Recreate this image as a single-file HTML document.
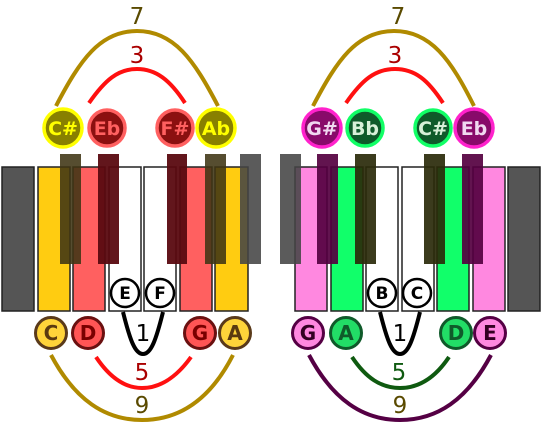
<!DOCTYPE html>
<html><head><meta charset="utf-8"><style>html,body{margin:0;padding:0;background:#fff}svg{display:block}</style></head><body>
<svg width="547" height="428" viewBox="0 0 547 428" xmlns="http://www.w3.org/2000/svg" font-family="DejaVu Sans, Liberation Sans, sans-serif">
<g stroke="#222" stroke-width="1.5">
<rect x="2" y="167" width="32" height="144" fill="#555"/>
<rect x="38" y="167" width="32" height="144" fill="#ffcc11"/>
<rect x="73" y="167" width="32" height="144" fill="#ff6060"/>
<rect x="109" y="167" width="32" height="144" fill="#fff"/>
<rect x="144" y="167" width="32" height="144" fill="#fff"/>
<rect x="180" y="167" width="32" height="144" fill="#ff6060"/>
<rect x="215" y="167" width="33" height="144" fill="#ffcc11"/>
</g>
<g>
<rect x="60" y="154" width="21" height="110" fill="#3f3413" opacity="0.88"/>
<rect x="98" y="154" width="21" height="110" fill="#5a0a10" opacity="0.95"/>
<rect x="167" y="154" width="20" height="110" fill="#5a0a10" opacity="0.95"/>
<rect x="205" y="154" width="21" height="110" fill="#3f3413" opacity="0.88"/>
<rect x="240" y="154" width="21" height="110" fill="#444" opacity="0.88"/>
</g>
<g stroke="#222" stroke-width="1.5">
<rect x="295" y="167" width="32" height="144" fill="#ff88e0"/>
<rect x="331" y="167" width="32" height="144" fill="#11ff6a"/>
<rect x="366" y="167" width="32" height="144" fill="#fff"/>
<rect x="402" y="167" width="32" height="144" fill="#fff"/>
<rect x="437" y="167" width="32" height="144" fill="#11ff6a"/>
<rect x="473" y="167" width="32" height="144" fill="#ff88e0"/>
<rect x="508" y="167" width="32" height="144" fill="#555"/>
</g>
<g>
<rect x="280" y="154" width="21" height="110" fill="#444" opacity="0.88"/>
<rect x="317" y="154" width="21" height="110" fill="#550040" opacity="0.92"/>
<rect x="355" y="154" width="21" height="110" fill="#2a2a0a" opacity="0.92"/>
<rect x="424" y="154" width="21" height="110" fill="#2a2a0a" opacity="0.92"/>
<rect x="462" y="154" width="21" height="110" fill="#550040" opacity="0.92"/>
</g>
<g fill="none" stroke-width="4">
<path d="M56 106 C80 60 100 31 137 31 C174 31 194 60 218 106" stroke="#b08a00"/>
<path d="M89 103 C105 80 118 69 137 69 C156 69 170 80 185 103" stroke="#ff1010"/>
<path d="M123 312 C130 340 135 354 143 354 C151 354 156 340 163 312" stroke="#000"/>
<path d="M96 357 C110 378 125 388 142 388 C159 388 176 378 191 357" stroke="#ff1010"/>
<path d="M51 355 C75 400 105 420 142 420 C179 420 210 400 233 355" stroke="#b08a00"/>
<path d="M313 106 C337 60 357 31 394 31 C431 31 451 60 474 106" stroke="#b08a00"/>
<path d="M346 103 C362 80 375 69 395 69 C415 69 428 80 443 103" stroke="#ff1010"/>
<path d="M380 312 C387 340 392 354 400 354 C408 354 413 340 420 312" stroke="#000"/>
<path d="M352 357 C366 378 381 388 400 388 C419 388 435 378 449 357" stroke="#0f5a10"/>
<path d="M309 355 C333 400 363 420 400 420 C437 420 467 400 491 355" stroke="#550044"/>
</g>
<g font-size="23" text-anchor="middle">
<text x="137" y="24" fill="#5a4a00">7</text>
<text x="137" y="63" fill="#aa0000">3</text>
<text x="143" y="341" fill="#000">1</text>
<text x="142" y="380" fill="#aa0000">5</text>
<text x="142" y="413" fill="#5a4a00">9</text>
<text x="398" y="24" fill="#5a4a00">7</text>
<text x="395" y="63" fill="#aa0000">3</text>
<text x="400" y="341" fill="#000">1</text>
<text x="399" y="380" fill="#0f5a10">5</text>
<text x="400" y="413" fill="#5a4a00">9</text>
</g>
<g font-weight="bold" text-anchor="middle">
<g font-size="19">
<circle cx="63" cy="128" r="19" fill="#888000" stroke="#ffff00" stroke-width="3.5"/><text x="63" y="135" fill="#ffff00">C#</text>
<circle cx="107" cy="128" r="18" fill="#8b1010" stroke="#ff6060" stroke-width="3.5"/><text x="107" y="135" fill="#ff6060">Eb</text>
<circle cx="175" cy="128" r="18" fill="#8b1010" stroke="#ff6060" stroke-width="3.5"/><text x="175" y="135" fill="#ff6060">F#</text>
<circle cx="216" cy="128" r="19" fill="#888000" stroke="#ffff00" stroke-width="3.5"/><text x="216" y="135" fill="#ffff00">Ab</text>
<circle cx="322" cy="128" r="19" fill="#880a6a" stroke="#ff22cc" stroke-width="3.5"/><text x="322" y="135" fill="#f0d8f0">G#</text>
<circle cx="365" cy="128" r="18" fill="#0f5a2a" stroke="#11ff66" stroke-width="3.5"/><text x="365" y="135" fill="#d8f0d8">Bb</text>
<circle cx="433" cy="128" r="18" fill="#0f5a2a" stroke="#11ff66" stroke-width="3.5"/><text x="433" y="135" fill="#d8f0d8">C#</text>
<circle cx="474" cy="128" r="19" fill="#880a6a" stroke="#ff22cc" stroke-width="3.5"/><text x="474" y="135" fill="#f0d8f0">Eb</text>
</g>
<g font-size="17">
<circle cx="125" cy="293" r="14" fill="#fff" stroke="#000" stroke-width="2.5"/><text x="125" y="299" fill="#000">E</text>
<circle cx="160" cy="293" r="14" fill="#fff" stroke="#000" stroke-width="2.5"/><text x="160" y="299" fill="#000">F</text>
<circle cx="382" cy="293" r="14" fill="#fff" stroke="#000" stroke-width="2.5"/><text x="382" y="299" fill="#000">B</text>
<circle cx="417" cy="293" r="14" fill="#fff" stroke="#000" stroke-width="2.5"/><text x="417" y="299" fill="#000">C</text>
</g>
<g font-size="20">
<circle cx="51" cy="333" r="15.5" fill="#ffd43a" stroke="#5a3a1a" stroke-width="3"/><text x="51" y="340" fill="#5a3a10">C</text>
<circle cx="88" cy="333" r="15.5" fill="#ff5555" stroke="#6a1010" stroke-width="3"/><text x="88" y="340" fill="#7a0000">D</text>
<circle cx="200" cy="333" r="15.5" fill="#ff5555" stroke="#6a1010" stroke-width="3"/><text x="200" y="340" fill="#7a0000">G</text>
<circle cx="235" cy="333" r="15.5" fill="#ffd43a" stroke="#5a3a1a" stroke-width="3"/><text x="235" y="340" fill="#5a3a10">A</text>
<circle cx="308" cy="333" r="15.5" fill="#ff88e0" stroke="#550044" stroke-width="3"/><text x="308" y="340" fill="#330022">G</text>
<circle cx="346" cy="333" r="15.5" fill="#22dd66" stroke="#0f5a2a" stroke-width="3"/><text x="346" y="340" fill="#0f5a2a">A</text>
<circle cx="456" cy="333" r="15.5" fill="#22dd66" stroke="#0f5a2a" stroke-width="3"/><text x="456" y="340" fill="#0f5a2a">D</text>
<circle cx="490" cy="333" r="15.5" fill="#ff88e0" stroke="#550044" stroke-width="3"/><text x="490" y="340" fill="#330022">E</text>
</g>
</g>
</svg>
</body></html>
